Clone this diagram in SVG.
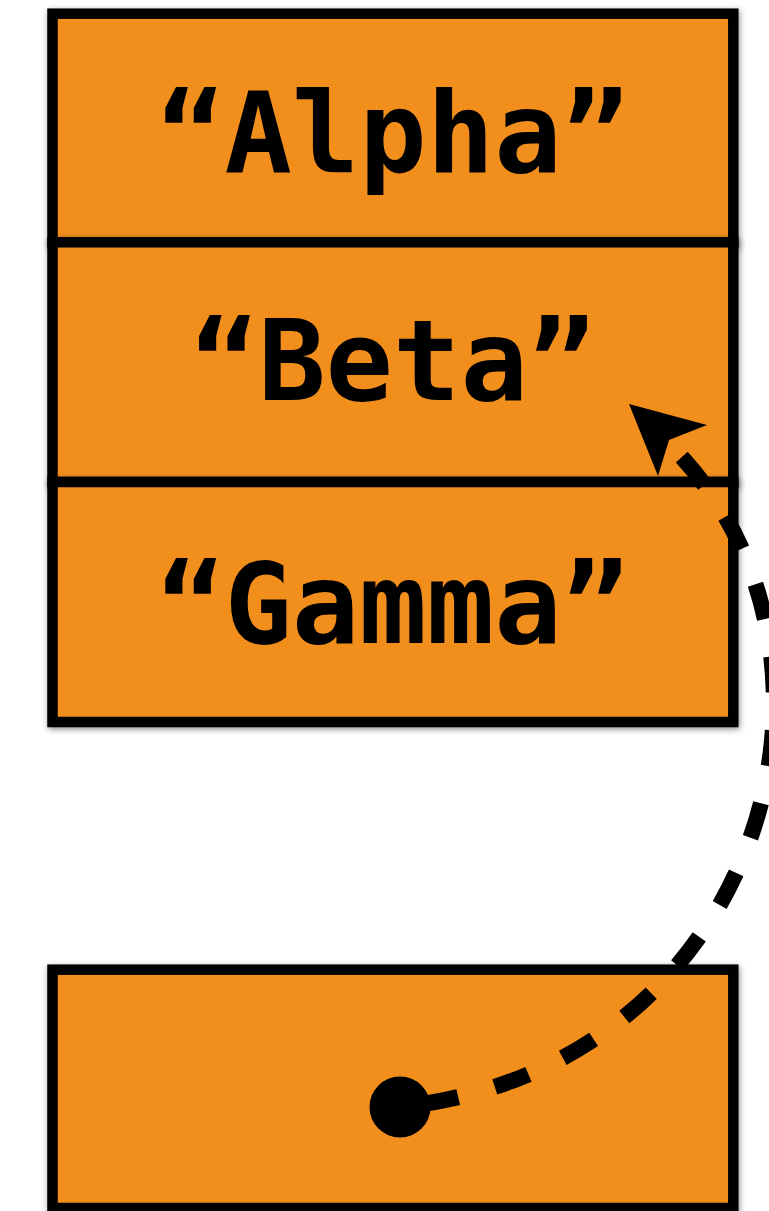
<svg xmlns="http://www.w3.org/2000/svg" width="769" height="1211" viewBox="0 0 769 1211">
  <style>
    .box { fill: #F28F1A; stroke: #000; stroke-width: 10.5; filter: url(#shadow); }
    .label { font-family: "DejaVu Sans Mono", "Liberation Mono", monospace; font-weight: bold; font-size: 112px; fill: #000; text-anchor: middle; }
    .link { fill: none; stroke: #000; stroke-width: 16; stroke-dasharray: 36 38; stroke-dashoffset: 51; }
  </style>
  <defs>
    <filter id="shadow" x="-10%" y="-10%" width="120%" height="120%">
      <feDropShadow dx="1" dy="2" stdDeviation="3" flood-color="#000" flood-opacity="0.45"/>
    </filter>
  </defs>
  <rect width="769" height="1211" fill="#fff"/>

  <g id="node-alpha">
    <rect class="box" x="52.5" y="13.7" width="680.8" height="228.6"/>
    <text class="label" x="393" y="171.5">“Alpha”</text>
  </g>
  <g id="node-beta">
    <rect class="box" x="52.5" y="242.3" width="680.8" height="239.7"/>
    <text class="label" x="393" y="400">“Beta”</text>
  </g>
  <g id="node-gamma">
    <rect class="box" x="52.5" y="482" width="680.8" height="240"/>
    <text class="label" x="393" y="643">“Gamma”</text>
  </g>
  <g id="node-ref">
    <rect class="box" x="52.5" y="969.7" width="680.8" height="238.3"/>
  </g>

  <g id="connectors">
    <path class="link" d="M400,1107 C765,1068 880,650 668,443"/>
    <circle cx="400" cy="1107" r="30.5" fill="#000"/>
    <polygon points="629,404 707,425 669,440 658,476" fill="#000"/>
  </g>
</svg>
